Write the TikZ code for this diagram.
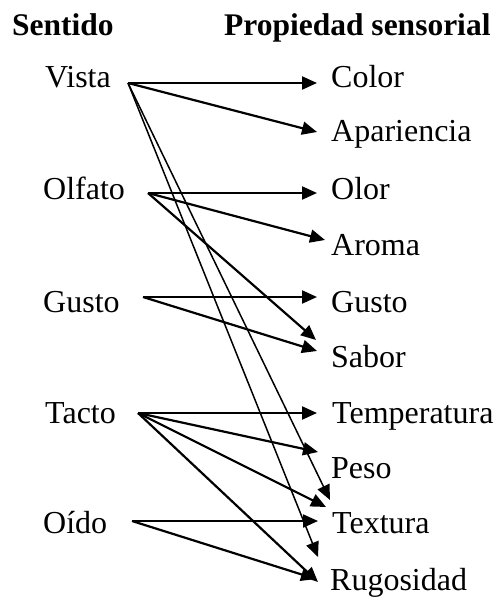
\documentclass[tikz,border=0pt]{standalone}
\usepackage{fontspec}
\setmainfont{Liberation Serif}
\usetikzlibrary{arrows.meta}
\tikzset{
  lbl/.style={anchor=base west, inner sep=0pt, font=\fontsize{32}{36}\selectfont},
  hdr/.style={anchor=base west, inner sep=0pt, font=\bfseries\fontsize{31.5}{36}\selectfont},
  conn/.style={line width=2.2pt, -{Triangle[length=15pt,width=13pt]}},
  thinconn/.style={line width=1.5pt, -{Triangle[length=15pt,width=13pt]}}
}
\begin{document}
\begin{tikzpicture}[x=1pt,y=-1pt]
\useasboundingbox (0,0) rectangle (500,601);
% headings
\node[hdr] (hS) at (12,36) {Sentido};
\node[hdr] (hP) at (224,36) {Propiedad sensorial};
% left labels
\node[lbl] (Vista) at (45,88) {Vista};
\node[lbl] (Olfato) at (43,200) {Olfato};
\node[lbl] (GustoL) at (43,312) {Gusto};
\node[lbl] (Tacto) at (45,423) {Tacto};
\node[lbl] (Oido) at (43,533) {Oído};
% right labels
\node[lbl] (Color) at (331,88) {Color};
\node[lbl] (Apar) at (331,142) {Apariencia};
\node[lbl] (Olor) at (331,200) {Olor};
\node[lbl] (Aroma) at (331,255) {Aroma};
\node[lbl] (GustoR) at (331,312) {Gusto};
\node[lbl] (Sabor) at (331,367) {Sabor};
\node[lbl] (Temp) at (332,423) {Temperatura};
\node[lbl] (Peso) at (331,478) {Peso};
\node[lbl] (Text) at (332,533) {Textura};
\node[lbl] (Rug) at (330,590) {Rugosidad};
% start points
\coordinate (sV) at (128,83);
\coordinate (sO) at (148,193);
\coordinate (sG) at (143,297);
\coordinate (sT) at (138,413);
\coordinate (sD) at (132,521);
% tip points
\coordinate (tColor) at (317,83);
\coordinate (tApar) at (317,132);
\coordinate (tOlor) at (317,193);
\coordinate (tAroma) at (325,240);
\coordinate (tGusto) at (317,297);
\coordinate (tSaborO) at (316,340);
\coordinate (tSaborG) at (317,351);
\coordinate (tTemp) at (317,413);
\coordinate (tPeso) at (318,452);
\coordinate (tTextV) at (330,500);
\coordinate (tTextT) at (326,507);
\coordinate (tTextO) at (318,521);
\coordinate (tRugV) at (318,557);
\coordinate (tRugT) at (318,582);
\coordinate (tRugO) at (316,579);
% connectors
\draw[conn] (sV) -- (tColor);
\draw[conn] (sV) -- (tApar);
\draw[thinconn] (sV) -- (tTextV);
\draw[thinconn] (sV) -- (tRugV);
\draw[conn] (sO) -- (tOlor);
\draw[conn] (sO) -- (tAroma);
\draw[conn] (sO) -- (tSaborO);
\draw[conn] (sG) -- (tGusto);
\draw[conn] (sG) -- (tSaborG);
\draw[conn] (sT) -- (tTemp);
\draw[conn] (sT) -- (tPeso);
\draw[conn] (sT) -- (tTextT);
\draw[conn] (sT) -- (tRugT);
\draw[conn] (sD) -- (tTextO);
\draw[conn] (sD) -- (tRugO);
\end{tikzpicture}
\end{document}
